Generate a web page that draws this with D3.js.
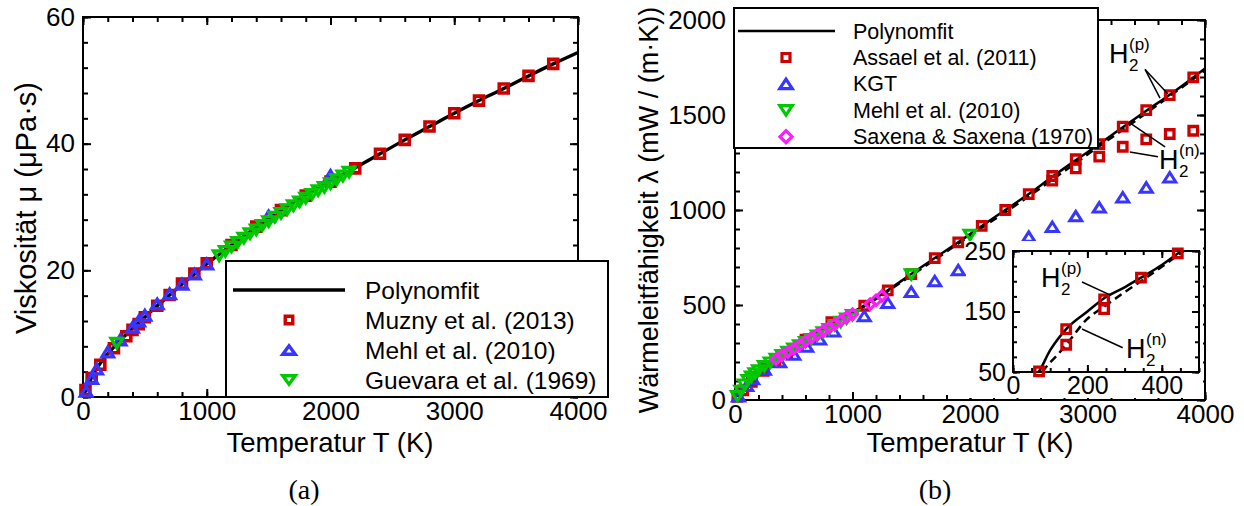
<!DOCTYPE html>
<html>
<head>
<meta charset="utf-8">
<script src="https://cdn.jsdelivr.net/npm/d3@7"></script>
<style>
  html, body { margin: 0; padding: 0; background: #fff; }
  svg { display: block; font-family: "Liberation Sans", Arial, Helvetica, sans-serif; }
</style>
</head>
<body>
<svg id="fig" width="1244" height="506"></svg>
<script>
// ---------- (a) Viskosität von H2 ----------
const fitViscT  = [10, 50, 100, 150, 200, 300, 400, 500, 600, 700, 800, 900, 1000, 1200, 1400, 1600, 1800, 2000, 2200, 2400, 2600, 2800, 3000, 3200, 3400, 3600, 3800, 4000];
const fitViscMu = [0.5, 2.3, 4.2, 5.6, 6.8, 8.9, 10.8, 12.6, 14.4, 16.1, 17.8, 19.4, 21.0, 24.0, 26.8, 29.5, 31.9, 34.1, 36.2, 38.4, 40.6, 42.7, 44.8, 46.8, 48.7, 50.7, 52.6, 54.4];

const muznyT  = [20, 70, 140, 250, 350, 400, 450, 500, 600, 700, 800, 900, 1000, 1200, 1400, 1600, 1800, 2000, 2200, 2400, 2600, 2800, 3000, 3200, 3400, 3600, 3800];
const muznyMu = [1.1, 3.0, 5.1, 7.7, 9.6, 10.6, 11.5, 12.6, 14.4, 16.1, 17.9, 19.5, 21.1, 24.0, 26.9, 29.5, 31.8, 34.0, 36.1, 38.4, 40.6, 42.7, 44.8, 46.8, 48.7, 50.7, 52.6];

const mehlViscT  = [25, 70, 110, 200, 300, 400, 450, 500, 600, 700, 800, 900, 1000, 1500, 2000];
const mehlViscMu = [0.9, 2.9, 4.4, 7.1, 9.0, 11.0, 12.0, 12.9, 14.7, 16.3, 17.8, 19.4, 21.0, 28.6, 35.0];

const guevaraT  = [273, 1100, 1150, 1200, 1250, 1300, 1350, 1400, 1450, 1500, 1550, 1600, 1650, 1700, 1750, 1800, 1850, 1900, 1950, 2000, 2050, 2100, 2150];
const guevaraMu = [8.5, 22.3, 23.0, 23.7, 24.4, 25.1, 25.8, 26.4, 27.1, 27.7, 28.4, 29.0, 29.6, 30.2, 30.8, 31.4, 32.0, 32.6, 33.1, 33.7, 34.3, 34.9, 35.5];

const legendA = ["Polynomfit", "Muzny et al. (2013)", "Mehl et al. (2010)", "Guevara et al. (1969)"];

// ---------- (b) Wärmeleitfähigkeit von H2 ----------
const fitParaT      = [20, 40, 70, 100, 143, 200, 245, 300, 344, 400, 443, 500, 600, 700, 800, 900, 1000, 1100, 1300, 1500, 1700, 1900, 2100, 2300, 2500, 2700, 2900, 3100, 3300, 3500, 3700, 3900, 4000];
const fitParaLambda = [16, 30, 51, 86, 121, 150, 172, 190, 206, 227, 246, 270, 315, 355, 395, 430, 462, 497, 577, 663, 747, 830, 916, 1000, 1084, 1175, 1262, 1347, 1435, 1522, 1607, 1698, 1745];

const fitNormalT      = [78, 100, 119, 143, 200, 245, 300, 344, 400, 443, 500, 600, 800, 1000, 1500, 2000, 2500, 3000, 3500, 4000];
const fitNormalLambda = [50, 66, 78, 95, 138, 158, 182, 200, 224, 243, 267, 312, 390, 456, 655, 865, 1072, 1292, 1510, 1735];

const assaelT      = [20, 70, 143, 143, 245, 245, 344, 443, 600, 820, 1100, 1300, 1500, 1700, 1900, 2100, 2300, 2500, 2700, 2700, 2900, 2900, 3100, 3100, 3300, 3300, 3500, 3500, 3700, 3700, 3900, 3900];
const assaelLambda = [16, 51, 121, 95, 170, 154, 206, 246, 318, 410, 496, 577, 663, 747, 830, 916, 1000, 1084, 1179, 1155, 1267, 1219, 1347, 1281, 1439, 1333, 1526, 1372, 1605, 1400, 1698, 1417];

const kgtT      = [30, 100, 150, 250, 380, 500, 610, 720, 840, 1100, 1300, 1500, 1700, 1900, 2500, 2700, 2900, 3100, 3300, 3500, 3700];
const kgtLambda = [20, 75, 110, 160, 200, 240, 281, 320, 362, 442, 512, 570, 626, 684, 860, 912, 968, 1014, 1067, 1119, 1172];

const mehlCondT      = [20, 50, 80, 110, 140, 170, 200, 250, 300, 350, 400, 450, 500, 550, 600, 650, 700, 750, 800, 850, 900, 950, 1000, 1500, 2000];
const mehlCondLambda = [20, 48, 80, 104, 122, 140, 155, 177, 196, 216, 235, 252, 270, 287, 304, 320, 338, 355, 373, 392, 410, 428, 446, 660, 868];

const saxenaT      = [350, 400, 450, 500, 550, 600, 650, 700, 750, 800, 850, 900, 950, 1000, 1150, 1200, 1250];
const saxenaLambda = [215, 235, 252, 270, 290, 310, 328, 346, 364, 382, 400, 418, 436, 452, 505, 525, 548];

const legendB = ["Polynomfit", "Assael et al. (2011)", "KGT", "Mehl et al. (2010)", "Saxena & Saxena (1970)"];

// tick values
const ticksA = { xMajor: [0, 1000, 2000, 3000, 4000], yMajor: [0, 20, 40, 60] };
const ticksB = { xMajor: [0, 1000, 2000, 3000, 4000], yMajor: [0, 500, 1000, 1500, 2000] };
const ticksInset = { xMajor: [0, 200, 400], yMajor: [50, 150, 250] };

// ---------- styling ----------
const RED = "#cc0000", BLUE = "#3636ff", GREEN = "#00c800", MAGENTA = "#ff1aff";
const SANS = "'Liberation Sans', Arial, Helvetica, sans-serif";

const svg = d3.select("#fig");

// marker shapes
const sq   = s => `M${-s/2},${-s/2}h${s}v${s}h${-s}Z`;
const triU = (w, h) => `M${-w/2},${h/2}L${w/2},${h/2}L0,${-h/2}Z`;
const triD = (w, h) => `M${-w/2},${-h/2}L${w/2},${-h/2}L0,${h/2}Z`;
const dia  = (w, h) => `M0,${-h/2}L${w/2},0L0,${h/2}L${-w/2},0Z`;

function steps(a, b, s) { const r = []; for (let v = a; v <= b + 1e-9; v += s) r.push(+v.toFixed(6)); return r; }

function axesFrame(g, x, y, o) {
  const [xa, xb] = x.range(), [yb, ya] = y.range();
  const tidy = s => {
    s.select(".domain").remove();
    s.selectAll("line").attr("stroke", "#000").attr("stroke-width", o.tw);
    s.attr("font-size", o.font).attr("font-family", SANS);
    s.selectAll("text").attr("fill", "#000");
  };
  const minX = steps(x.domain()[0], x.domain()[1], o.xStep);
  const minY = steps(y.domain()[0], y.domain()[1], o.yStep);
  g.append("g").attr("transform", `translate(0,${yb})`).call(d3.axisBottom(x).tickValues(minX).tickSize(-o.minor).tickFormat("")).call(tidy);
  g.append("g").attr("transform", `translate(0,${ya})`).call(d3.axisTop(x).tickValues(minX).tickSize(-o.minor).tickFormat("")).call(tidy);
  g.append("g").attr("transform", `translate(${xa},0)`).call(d3.axisLeft(y).tickValues(minY).tickSize(-o.minor).tickFormat("")).call(tidy);
  g.append("g").attr("transform", `translate(${xb},0)`).call(d3.axisRight(y).tickValues(minY).tickSize(-o.minor).tickFormat("")).call(tidy);
  g.append("g").attr("transform", `translate(0,${yb})`).call(d3.axisBottom(x).tickValues(o.xMajor).tickSize(-o.major).tickPadding(o.padX).tickFormat(d3.format("d"))).call(tidy);
  g.append("g").attr("transform", `translate(0,${ya})`).call(d3.axisTop(x).tickValues(o.xMajor).tickSize(-o.major).tickFormat("")).call(tidy);
  g.append("g").attr("transform", `translate(${xa},0)`).call(d3.axisLeft(y).tickValues(o.yMajor).tickSize(-o.major).tickPadding(o.padY).tickFormat(d3.format("d"))).call(tidy);
  g.append("g").attr("transform", `translate(${xb},0)`).call(d3.axisRight(y).tickValues(o.yMajor).tickSize(-o.major).tickFormat("")).call(tidy);
  g.append("rect").attr("x", xa).attr("y", ya).attr("width", xb - xa).attr("height", yb - ya)
    .attr("fill", "none").attr("stroke", "#000").attr("stroke-width", o.fw);
}

function markers(g, xs, ys, x, y, path, color, sw) {
  g.append("g").selectAll("path").data(d3.zip(xs, ys)).join("path")
    .attr("transform", d => `translate(${x(d[0])},${y(d[1])})`)
    .attr("d", path).attr("fill", "none").attr("stroke", color)
    .attr("stroke-width", sw).attr("stroke-linejoin", "miter");
}

function curve(g, xs, ys, x, y, sw, dash) {
  const gen = d3.line().x(d => x(d[0])).y(d => y(d[1])).curve(d3.curveMonotoneX);
  const p = g.append("path").attr("d", gen(d3.zip(xs, ys))).attr("fill", "none")
    .attr("stroke", "#000").attr("stroke-width", sw).attr("stroke-linejoin", "round");
  if (dash) p.attr("stroke-dasharray", dash);
  return p;
}

function label(g, x, y, txt, size, opt = {}) {
  return g.append("text").attr("x", x).attr("y", y).attr("font-size", size)
    .attr("font-family", opt.family || SANS).attr("text-anchor", opt.anchor || "start")
    .attr("fill", "#000").text(txt);
}

// H2 with sub/superscript
function h2(g, x, y, sup, big, small) {
  label(g, x, y, "H", big);
  label(g, x + big * 0.74, y - big * 0.5, sup, small);
  label(g, x + big * 0.74, y + small * 0.48, "2", small);
}

// ================= panel (a) =================
const xA = d3.scaleLinear([0, 4000], [83, 578]);
const yA = d3.scaleLinear([0, 60], [397, 17]);
const gA = svg.append("g");

axesFrame(gA, xA, yA, { xMajor: ticksA.xMajor, yMajor: ticksA.yMajor, xStep: 200, yStep: 4,
  major: 8, minor: 5, tw: 2, fw: 2, font: 26, padX: 5, padY: 8 });

curve(gA, fitViscT, fitViscMu, xA, yA, 3.4);
markers(gA, muznyT, muznyMu, xA, yA, sq(9), RED, 3.6);
markers(gA, mehlViscT, mehlViscMu, xA, yA, triU(11.5, 9.5), BLUE, 3.3);
markers(gA, guevaraT, guevaraMu, xA, yA, triD(11.5, 9.5), GREEN, 3.3);

// legend (a)
const lgA = gA.append("g");
lgA.append("rect").attr("x", 226).attr("y", 261).attr("width", 382).attr("height", 136)
  .attr("fill", "#fff").attr("stroke", "#000").attr("stroke-width", 2);
lgA.append("line").attr("x1", 233).attr("x2", 345).attr("y1", 290).attr("y2", 290).attr("stroke", "#000").attr("stroke-width", 3.5);
[sq(7.5), triU(12.5, 8.5), triD(12.5, 8.5)].forEach((p, i) => {
  lgA.append("path").attr("transform", `translate(289,${320 + 30 * i})`).attr("d", p)
    .attr("fill", "none").attr("stroke", [RED, BLUE, GREEN][i]).attr("stroke-width", 3.4);
});
legendA.forEach((t, i) => label(lgA, 365, 290 + 30 * i, t, 24.5).attr("dy", "0.35em"));

// axis titles (a)
label(gA, 330, 452, "Temperatur T (K)", 27.5, { anchor: "middle" });
label(gA, 0, 0, "Viskosität μ (μPa·s)", 29, { anchor: "middle" })
  .attr("transform", "translate(36,208) rotate(-90)");

// ================= panel (b) =================
const xB = d3.scaleLinear([0, 4000], [735, 1205]);
const yB = d3.scaleLinear([0, 2000], [400, 20]);
const gB = svg.append("g");

axesFrame(gB, xB, yB, { xMajor: ticksB.xMajor, yMajor: ticksB.yMajor, xStep: 200, yStep: 100,
  major: 8, minor: 5, tw: 2, fw: 2, font: 26, padX: 5, padY: 9 });

curve(gB, fitParaT, fitParaLambda, xB, yB, 2.5);
curve(gB, fitNormalT, fitNormalLambda, xB, yB, 2.5, "8,5");
markers(gB, assaelT, assaelLambda, xB, yB, sq(8.5), RED, 3.3);
markers(gB, kgtT, kgtLambda, xB, yB, triU(12, 9.5), BLUE, 3);
markers(gB, mehlCondT, mehlCondLambda, xB, yB, triD(12, 9.5), GREEN, 3);
markers(gB, saxenaT, saxenaLambda, xB, yB, dia(10.5, 10.5), MAGENTA, 3);

// H2 annotations in the main plot
const ann = gB.append("g").attr("stroke", "#000").attr("stroke-width", 1.5);
ann.append("line").attr("x1", xB(3490)).attr("y1", yB(1740)).attr("x2", xB(3617)).attr("y2", yB(1589));
ann.append("line").attr("x1", xB(3490)).attr("y1", yB(1740)).attr("x2", xB(3685)).attr("y2", yB(1611));
ann.append("line").attr("x1", xB(3660)).attr("y1", yB(1332)).attr("x2", xB(3360)).attr("y2", yB(1458));
ann.append("line").attr("x1", xB(3600)).attr("y1", yB(1280)).attr("x2", xB(3360)).attr("y2", yB(1305));
h2(gB, 1109, 63, "(p)", 27, 17);
h2(gB, 1159, 169, "(n)", 27, 17);

// legend (b)
const lgB = gB.append("g");
lgB.append("rect").attr("x", 734).attr("y", 8).attr("width", 364).attr("height", 140)
  .attr("fill", "#fff").attr("stroke", "#000").attr("stroke-width", 2);
lgB.append("line").attr("x1", 738).attr("x2", 835).attr("y1", 31).attr("y2", 31).attr("stroke", "#000").attr("stroke-width", 2.4);
[sq(8), triU(12.5, 9.5), triD(12.5, 9.5), dia(12, 12)].forEach((p, i) => {
  lgB.append("path").attr("transform", `translate(786,${57.5 + 26.4 * i})`).attr("d", p)
    .attr("fill", "none").attr("stroke", [RED, BLUE, GREEN, MAGENTA][i]).attr("stroke-width", 3.2);
});
legendB.forEach((t, i) => label(lgB, 853, 31 + 26.4 * i, t, 21.5).attr("dy", "0.35em"));

// axis titles (b)
label(gB, 970, 452, "Temperatur T (K)", 27.5, { anchor: "middle" });
label(gB, 0, 0, "Wärmeleitfähigkeit λ (mW / (m·K))", 27, { anchor: "middle" })
  .attr("transform", "translate(658,210) rotate(-90)");

// ---------- inset: low temperature range ----------
const gI = gB.append("g");
gI.append("rect").attr("x", 966).attr("y", 241).attr("width", 237).attr("height", 157).attr("fill", "#fff");
const xI = d3.scaleLinear([0, 500], [1013, 1199]);
const yI = d3.scaleLinear([50, 250], [372, 251]);
axesFrame(gI, xI, yI, { xMajor: ticksInset.xMajor, yMajor: ticksInset.yMajor, xStep: 50, yStep: 25,
  major: 7, minor: 4, tw: 2, fw: 2, font: 25, padX: 4, padY: 7 });

svg.append("defs").append("clipPath").attr("id", "insetClip")
  .append("rect").attr("x", 1013).attr("y", 251).attr("width", 186).attr("height", 121);
const gIc = gI.append("g").attr("clip-path", "url(#insetClip)");
curve(gIc, fitParaT, fitParaLambda, xI, yI, 2.5);
curve(gIc, fitNormalT, fitNormalLambda, xI, yI, 2.5, "8,5");
const insetIdx = assaelT.map((t, i) => i).filter(i => assaelT[i] <= 500 && assaelLambda[i] >= 50 && assaelLambda[i] <= 250);
markers(gI, insetIdx.map(i => assaelT[i]), insetIdx.map(i => assaelLambda[i]), xI, yI, sq(8.5), RED, 3.3);

const annI = gI.append("g").attr("stroke", "#000").attr("stroke-width", 1.5);
annI.append("line").attr("x1", 1082).attr("y1", 282).attr("x2", xI(262)).attr("y2", yI(177));
annI.append("line").attr("x1", 1082).attr("y1", 329).attr("x2", xI(295)).attr("y2", yI(90));
h2(gI, 1041, 287, "(p)", 27, 17);
h2(gI, 1126, 358, "(n)", 27, 17);

// ---------- captions ----------
const SERIF = "'Liberation Serif', 'DejaVu Serif', serif";
label(svg, 304, 499, "(a)", 28, { anchor: "middle", family: SERIF });
label(svg, 935, 499, "(b)", 28, { anchor: "middle", family: SERIF });
</script>
</body>
</html>
